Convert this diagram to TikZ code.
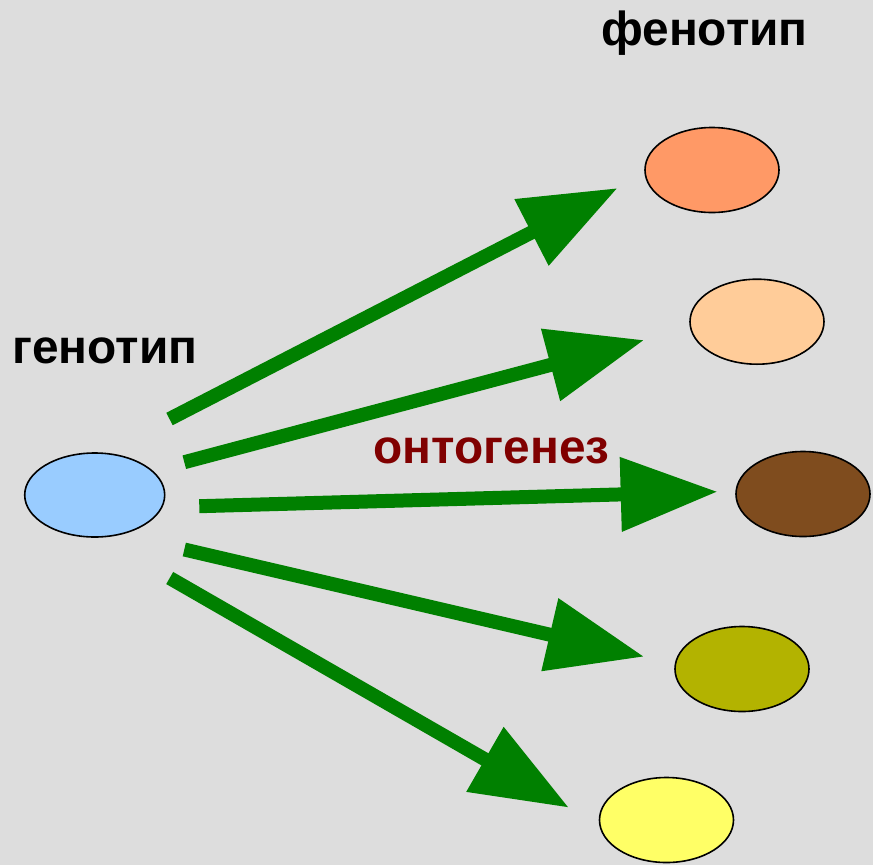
\documentclass[tikz,border=0pt]{standalone}
\usepackage{fontspec}
\setmainfont{Liberation Sans}
\usetikzlibrary{arrows.meta,shapes.geometric}
\definecolor{bg}{HTML}{DDDDDD}
\definecolor{arrgreen}{HTML}{008000}
\definecolor{darkred}{HTML}{800000}
\definecolor{cblue}{HTML}{99CCFF}
\definecolor{corange}{HTML}{FF9966}
\definecolor{cpeach}{HTML}{FFCC99}
\definecolor{cbrown}{HTML}{7F4C1E}
\definecolor{colive}{HTML}{B3B300}
\definecolor{cyellow}{HTML}{FFFF66}
\begin{document}
\begin{tikzpicture}[x=1pt,y=-1pt,
  blob/.style={draw=black,line width=1.6pt,ellipse,minimum width=134pt,minimum height=85pt,inner sep=0pt},
  bigarrow/.style={draw=arrgreen,line width=14pt,-{Triangle[length=97pt,width=71pt]}},
  lbl/.style={font=\fontsize{47.8}{50}\selectfont\bfseries,anchor=base,inner sep=0pt}]
\fill[bg] (0,0) rectangle (873,865);
\useasboundingbox (0,0) rectangle (873,865);
% ellipses
\node[blob,fill=cblue,minimum width=140pt,minimum height=84pt] (g) at (94.7,495) {};
\node[blob,fill=corange] (p1) at (712,170) {};
\node[blob,fill=cpeach] (p2) at (757,321.7) {};
\node[blob,fill=cbrown] (p3) at (803,494) {};
\node[blob,fill=colive] (p4) at (742,669) {};
\node[blob,fill=cyellow] (p5) at (666.5,820) {};
% arrow ends
\coordinate (s1) at (169.5,419);
\coordinate (t1) at (617.7,188);
\coordinate (s2) at (184.3,462.2);
\coordinate (t2) at (644.3,340);
\coordinate (s3) at (199.3,506.2);
\coordinate (t3) at (717.7,491.7);
\coordinate (s4) at (184.3,549.5);
\coordinate (t4) at (644.3,656.7);
\coordinate (s5) at (169.7,578);
\coordinate (t5) at (569,807.7);
\draw[bigarrow] (s1) -- (t1);
\draw[bigarrow] (s2) -- (t2);
\draw[bigarrow] (s3) -- (t3);
\draw[bigarrow] (s4) -- (t4);
\draw[bigarrow] (s5) -- (t5);
% labels
\node[lbl] (fen) at (704.5,45.7) {фенотип};
\node[lbl] (gen) at (105,363) {генотип};
\node[lbl,text=darkred] (ont) at (491.5,463) {онтогенез};
\end{tikzpicture}
\end{document}
